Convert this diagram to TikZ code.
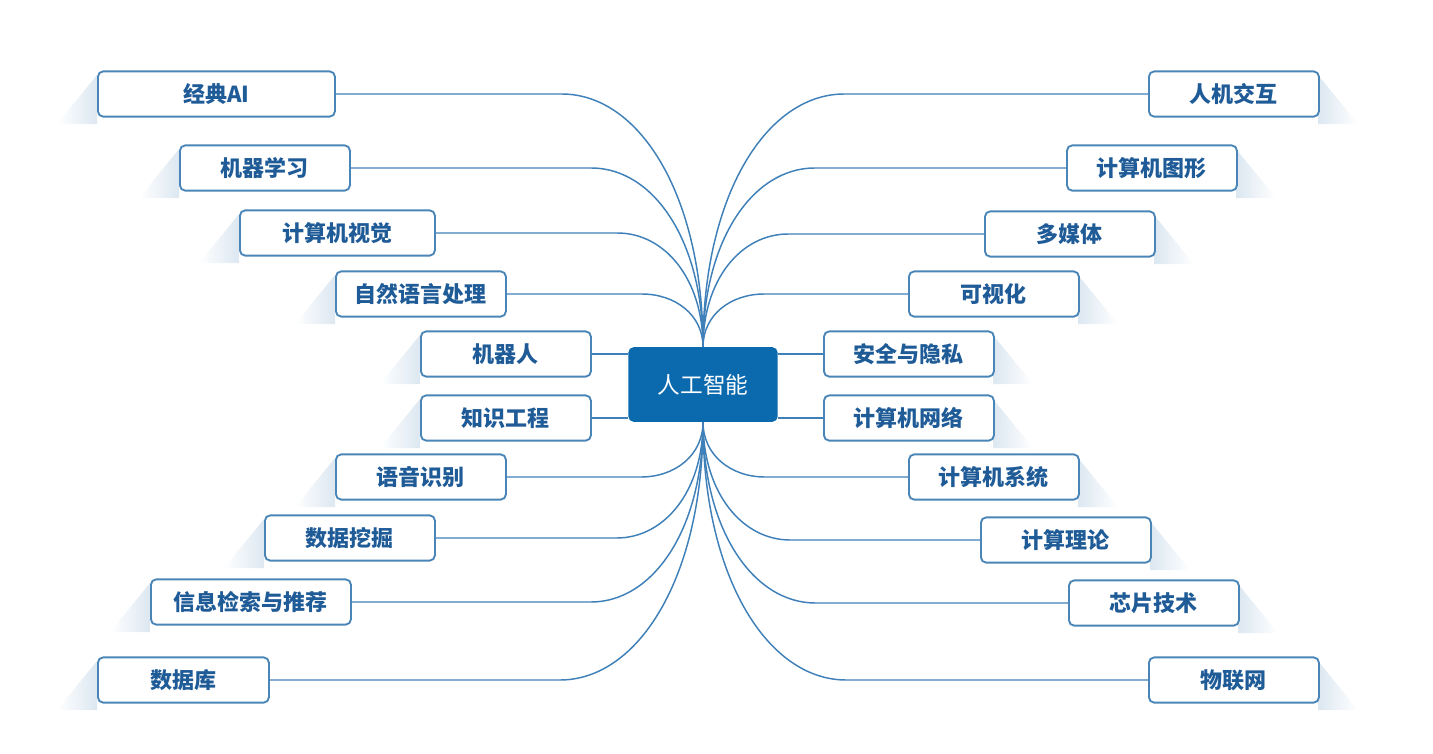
\documentclass[tikz,border=0pt]{standalone}
\usepackage{fontspec}
\setmainfont{Noto Sans CJK SC}
\usetikzlibrary{calc}

\definecolor{aiblue}{HTML}{0B69AE}
\definecolor{boxline}{HTML}{4A85B8}
\definecolor{linkc}{HTML}{3F80B8}
\definecolor{textc}{HTML}{1F5B97}
\definecolor{shadowc}{HTML}{DCE7F1}

\begin{document}
\begin{tikzpicture}[
  x=0.75pt, y=-0.75pt,
  topic/.style = {draw=boxline, line width=1.4pt, fill=white, rounded corners=4pt,
                  minimum height=34pt, inner sep=0pt, text=textc,
                  font=\fontsize{16.5pt}{19pt}\selectfont\bfseries},
  core/.style = {fill=aiblue, rounded corners=4pt, minimum width=112pt, minimum height=56pt,
                 text=white, font=\fontsize{17pt}{20pt}\selectfont},
  link/.style = {draw=linkc, line width=1.1pt}
]
  \useasboundingbox (0,0) rectangle (1433,753);

  % ======================================================
  % center node
  % ======================================================
  \node[core] (ai) at (703,384.5) {人工智能};

  % ======================================================
  % left side topics
  % ======================================================
  \foreach \n/\xl/\w/\y/\t in {jd/97/237/94/经典AI, jq/179/170/168/机器学习,
      sj/239/195/233/计算机视觉, zr/335/170/294/自然语言处理,
      jqr/420/170/354/机器人, zs/420/170/418/知识工程,
      yy/335/170/477/语音识别, wj/264/170/538/数据挖掘,
      xx/150/200/602/信息检索与推荐, sjk/97/171/680/数据库} {
    \shade[left color=white, right color=shadowc]
      (\xl,\y-19) -- (\xl-40,\y+30) -- (\xl,\y+30) -- cycle;
    \node[topic, anchor=west, minimum width=\w*0.75pt] (\n) at (\xl,\y) {\t};
  }

  % ======================================================
  % right side topics
  % ======================================================
  \foreach \n/\xl/\y/\t in {rj/1148/94/人机交互, tx/1066/168/计算机图形,
      dm/984/234/多媒体, ks/908/294/可视化,
      aq/823/354/安全与隐私, wl/823/418/计算机网络,
      xt/908/477/计算机系统, ll/980/540/计算理论,
      xp/1068/603/芯片技术, wlw/1148/680/物联网} {
    \shade[right color=white, left color=shadowc]
      (\xl+170,\y-19) -- (\xl+210,\y+30) -- (\xl+170,\y+30) -- cycle;
    \node[topic, anchor=west, minimum width=127.5pt] (\n) at (\xl,\y) {\t};
  }

  % straight links next to the center
  \draw[link] (jqr.east) -- (jqr.east -| ai.west);
  \draw[link] (zs.east) -- (zs.east -| ai.west);
  \draw[link] (aq.west) -- (aq.west -| ai.east);
  \draw[link] (wl.west) -- (wl.west -| ai.east);

  % curved links to the top of the center
  \foreach \n/\y in {jd/94, jq/168, sj/233, zr/294} {
    \pgfmathsetmacro\ry{347-\y}
    \pgfmathsetmacro\rx{40+0.4*\ry}
    \draw[link] (\n.east) -- (703-\rx,\y)
      .. controls +(0.55*\rx,0) and ($(ai.north)+(0,-0.6*\ry)$) .. (ai.north);
  }
  \foreach \n/\y in {rj/94, tx/168, dm/234, ks/294} {
    \pgfmathsetmacro\ry{347-\y}
    \pgfmathsetmacro\rx{40+0.4*\ry}
    \draw[link] (\n.west) -- (703+\rx,\y)
      .. controls +(-0.55*\rx,0) and ($(ai.north)+(0,-0.6*\ry)$) .. (ai.north);
  }

  % curved links to the bottom of the center
  \foreach \n/\y in {yy/477, wj/538, xx/602, sjk/680} {
    \pgfmathsetmacro\ry{\y-422}
    \pgfmathsetmacro\rx{40+0.4*\ry}
    \draw[link] (\n.east) -- (703-\rx,\y)
      .. controls +(0.55*\rx,0) and ($(ai.south)+(0,0.6*\ry)$) .. (ai.south);
  }
  \foreach \n/\y in {xt/477, ll/540, xp/603, wlw/680} {
    \pgfmathsetmacro\ry{\y-422}
    \pgfmathsetmacro\rx{40+0.4*\ry}
    \draw[link] (\n.west) -- (703+\rx,\y)
      .. controls +(-0.55*\rx,0) and ($(ai.south)+(0,0.6*\ry)$) .. (ai.south);
  }

\end{tikzpicture}
\end{document}
